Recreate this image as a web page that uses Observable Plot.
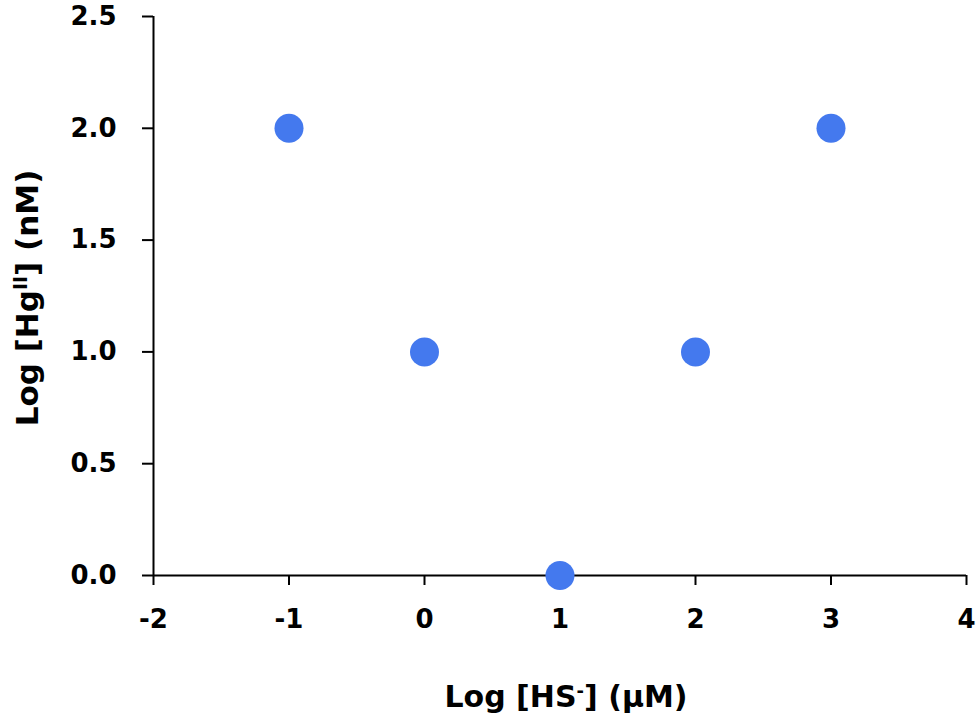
<!DOCTYPE html>
<html><head><meta charset="utf-8">
<script src="https://cdn.jsdelivr.net/npm/d3@7"></script>
<script src="https://cdn.jsdelivr.net/npm/@observablehq/plot@0.6"></script>
<style>body{margin:0;background:#fff}</style>
</head><body><div id="chart"></div>
<script>
const logHS = [-1, 0, 1, 2, 3];
const logHg = [2, 1, 0, 1, 2];
const xTicks = [-2, -1, 0, 1, 2, 3, 4];
const yTicks = [0, 0.5, 1, 1.5, 2, 2.5];
const xTitleParts = [["Log [HS", null], ["-", "sup"], ["] (\u00b5M)", null]];
const yTitleParts = [["Log [Hg", null], ["II", "sup"], ["] (nM)", null]];

const data = logHS.map((x, i) => ({x, y: logHg[i]}));
const FONT = "'DejaVu Sans', Verdana, sans-serif";

const chart = Plot.plot({
  width: 980,
  height: 719,
  marginLeft: 153,
  marginRight: 14,
  marginTop: 16,
  marginBottom: 144,
  style: {fontFamily: FONT, fontWeight: "bold", fontSize: "26px", color: "#000", background: "#fff"},
  x: {domain: [-2, 4]},
  y: {domain: [0, 2.5]},
  marks: [
    Plot.ruleY([0], {x1: -2, x2: 4, stroke: "#000", strokeWidth: 2}),
    Plot.ruleX([-2], {y1: 0, y2: 2.5, stroke: "#000", strokeWidth: 2}),
    Plot.axisX(xTicks, {tickSize: 10, tickPadding: 24, fontSize: 26, strokeWidth: 2, tickFormat: d => String(d), label: null}),
    Plot.axisY(yTicks, {tickSize: 11, tickPadding: 26, fontSize: 26, strokeWidth: 2, tickFormat: d3.format(".1f"), label: null}),
    Plot.dot(data, {x: "x", y: "y", r: 14.5, fill: "#4479EE", stroke: "none"})
  ]
});
document.getElementById("chart").appendChild(chart);

const svg = d3.select(chart);
svg.selectAll("g[aria-label='x-axis tick'], g[aria-label='y-axis tick']").attr("stroke-width", 2).style("stroke-width", "2px");
svg.selectAll("g[aria-label='x-axis tick label'], g[aria-label='y-axis tick label']")
  .style("font-size", "26px").style("font-weight", "bold").style("font-family", FONT);

function addTitle(parts, x, y, rotate, size) {
  const t = svg.append("text")
    .attr("text-anchor", "middle")
    .style("font-family", FONT)
    .style("font-size", size + "px")
    .style("font-weight", "bold")
    .attr("fill", "#000")
    .attr("transform", `translate(${x},${y})` + (rotate ? " rotate(-90)" : ""));
  parts.forEach(([s, kind]) => {
    const ts = t.append("tspan").text(s);
    if (kind === "sup") ts.attr("baseline-shift", "super").style("font-size", Math.round(size * 0.6) + "px");
  });
}
addTitle(xTitleParts, 566, 707, false, 30);
addTitle(yTitleParts, 38, 298, true, 31);
</script>
</body></html>
